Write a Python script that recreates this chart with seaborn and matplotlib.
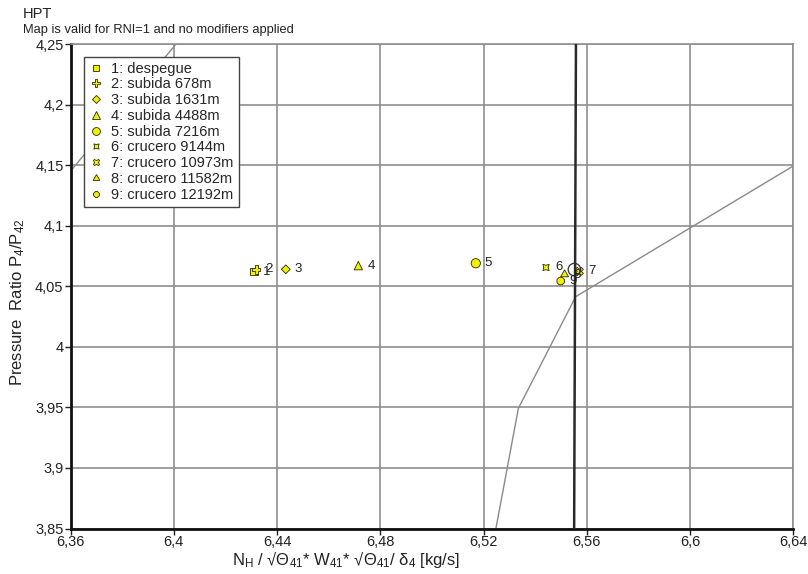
import matplotlib
matplotlib.use("Agg")
import matplotlib.pyplot as plt
import seaborn as sns
import pandas as pd

# ---------------- data ----------------
point_labels = ["1: despegue", "2: subida 678m", "3: subida 1631m", "4: subida 4488m",
                "5: subida 7216m", "6: crucero 9144m", "7: crucero 10973m",
                "8: crucero 11582m", "9: crucero 12192m"]
point_ids = ["1", "2", "3", "4", "5", "6", "7", "8", "9"]
points_x = [6.4311, 6.4319, 6.4434, 6.4715, 6.5170, 6.5442, 6.5571, 6.5514, 6.5499]
points_y = [4.0620, 4.0640, 4.0640, 4.0670, 4.0690, 4.0655, 4.0623, 4.0597, 4.0543]

design_x = [6.5552]
design_y = [4.0638]

speed_line_x = [6.5248, 6.5335, 6.5557, 6.6400]
speed_line_y = [3.8500, 3.9492, 4.0414, 4.1493]

upper_line_x = [6.3600, 6.4009]
upper_line_y = [4.1450, 4.2500]

op_line_x = [6.5551, 6.5558]
op_line_y = [3.8500, 4.2500]

x_ticks = [6.36, 6.40, 6.44, 6.48, 6.52, 6.56, 6.60, 6.64]
x_tick_labels = ["6,36", "6,4", "6,44", "6,48", "6,52", "6,56", "6,6", "6,64"]
y_ticks = [3.85, 3.90, 3.95, 4.00, 4.05, 4.10, 4.15, 4.20, 4.25]
y_tick_labels = ["3,85", "3,9", "3,95", "4", "4,05", "4,1", "4,15", "4,2", "4,25"]

# ---------------- style ----------------
sns.set_style("white")
plt.rcParams["font.family"] = ["Liberation Sans", "DejaVu Sans"]
plt.rcParams["mathtext.fontset"] = "custom"
plt.rcParams["mathtext.rm"] = "Liberation Sans"
plt.rcParams["mathtext.it"] = "Liberation Sans"

W, H = 808, 574
fig = plt.figure(figsize=(W / 100, H / 100), dpi=100)
L, R, T, B = 70.5, 793.3, 44.0, 528.5
ax = fig.add_axes([L / W, 1 - B / H, (R - L) / W, (B - T) / H])

grid_c = "#8f8f8f"
ax.set_xlim(x_ticks[0], x_ticks[-1])
ax.set_ylim(y_ticks[0], y_ticks[-1])
ax.set_xticks(x_ticks)
ax.set_xticklabels(x_tick_labels)
ax.set_yticks(y_ticks)
ax.set_yticklabels(y_tick_labels)
ax.grid(True, color=grid_c, lw=1.2)
ax.set_axisbelow(True)
ax.tick_params(axis="both", direction="out", length=4, width=1, color="#222222",
               labelsize=10.5, pad=1, bottom=True, left=True, labelcolor="#222222")
for side in ["left", "bottom"]:
    ax.spines[side].set_color("#111111")
    ax.spines[side].set_linewidth(2)
for side in ["top", "right"]:
    ax.spines[side].set_color(grid_c)
    ax.spines[side].set_linewidth(1.2)

# lines
sns.lineplot(x=speed_line_x, y=speed_line_y, sort=False, estimator=None,
             color="#8a8a8a", lw=1.0, ax=ax, zorder=2)
sns.lineplot(x=upper_line_x, y=upper_line_y, sort=False, estimator=None,
             color="#8a8a8a", lw=1.0, ax=ax, zorder=2)
sns.lineplot(x=op_line_x, y=op_line_y, sort=False, estimator=None,
             color="#2a2a2a", lw=1.8, ax=ax, zorder=3)

# points
df = pd.DataFrame({"x": points_x, "y": points_y, "label": point_labels})
marker_map = dict(zip(point_labels, ["s", "P", "D", "^", "o", (4, 1, 45), "X", (3, 1, 0), "8"]))
size_map = dict(zip(point_labels, [26, 40, 20, 36, 44, 40, 34, 44, 34]))
palette = {lab: "#f2f000" for lab in point_labels}
sns.scatterplot(data=df, x="x", y="y", hue="label", style="label", size="label",
                markers=marker_map, sizes=size_map, palette=palette,
                edgecolor="#2a2a00", linewidth=0.6, ax=ax, zorder=5)

ax.scatter(design_x, design_y, s=80, facecolors="none", edgecolors="#333333",
           linewidths=0.9, zorder=6)

for xi, yi, pid in zip(points_x, points_y, point_ids):
    ax.annotate(pid, (xi, yi), xytext=(6.5, 0), textcoords="offset points",
                ha="left", va="center", fontsize=9.5, color="#222222", zorder=7)

handles, labels = ax.get_legend_handles_labels()
leg = ax.legend(handles, labels, loc="upper left", bbox_to_anchor=(0.018, 0.974),
                frameon=True, fancybox=False, edgecolor="#444444", framealpha=1,
                fontsize=10.5, handletextpad=0.55, labelspacing=0.12, borderpad=0.35,
                handlelength=1.0, borderaxespad=0, markerscale=0.85)
leg.get_frame().set_linewidth(1.0)
leg.set_zorder(10)

ax.set_xlabel(r"N$_{\mathrm{H}}$ / √Θ$_{41}$* W$_{41}$* √Θ$_{41}$/ δ$_{4}$ [kg/s]",
              fontsize=12, color="#222222")
ax.xaxis.set_label_coords(0.381, -0.064)
ax.xaxis.label.set_va("center")
ax.set_ylabel(r"Pressure  Ratio P$_{4}$/P$_{42}$", fontsize=12, color="#222222")
ax.yaxis.set_label_coords(-0.073, 0.467)
ax.yaxis.label.set_va("center")

fig.text(23 / W, 1 - 18 / H, "HPT", fontsize=10.5, color="#222222", va="baseline", ha="left")
fig.text(23 / W, 1 - 33 / H, "Map is valid for RNI=1 and no modifiers applied",
         fontsize=9.3, color="#222222", va="baseline", ha="left")

fig.savefig("out.png", dpi=100)
